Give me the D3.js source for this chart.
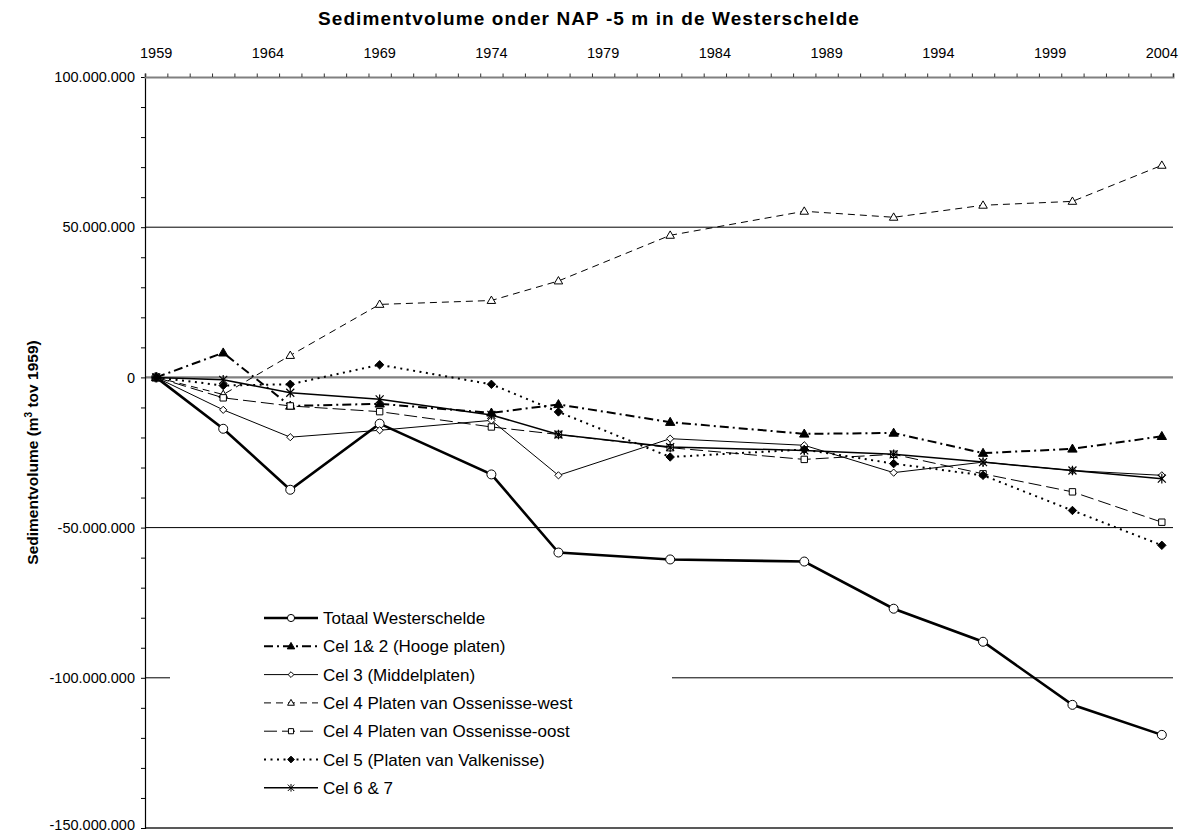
<!DOCTYPE html>
<html>
<head>
<meta charset="utf-8">
<script src="https://cdn.jsdelivr.net/npm/d3@7"></script>
<style>
  body { margin: 0; background: #fff; }
  svg { font-family: "Liberation Sans", Arial, sans-serif; }
</style>
</head>
<body>
<svg id="Vis" width="1179" height="832"></svg>
<script>
/* DATA (million m3 relative to 1959) */
const years = [1959, 1962, 1965, 1969, 1974, 1977, 1982, 1988, 1992, 1996, 2000, 2004];

const totaal     = [0, -17.1, -37.4, -15.4, -32.3, -58.3, -60.6, -61.3, -77.0, -88.0, -109.0, -119.0];
const cel12      = [0, 8.2, -9.5, -8.8, -11.8, -9.0, -14.9, -18.8, -18.5, -25.2, -23.8, -19.6];
const cel3       = [0, -10.8, -19.9, -17.6, -14.3, -32.6, -20.4, -22.6, -31.7, -28.2, -31.0, -32.6];
const cel4west   = [0, -5.7, 7.3, 24.3, 25.6, 32.1, 47.3, 55.3, 53.3, 57.3, 58.6, 70.6];
const cel4oost   = [0, -6.8, -9.5, -11.4, -16.5, -19.0, -23.4, -27.3, -25.6, -32.1, -38.1, -48.2];
const cel5       = [0, -2.7, -2.3, 4.2, -2.3, -11.5, -26.5, -24.0, -28.7, -32.6, -44.3, -55.9];
const cel67      = [0, -0.8, -5.1, -7.3, -12.5, -19.0, -23.2, -24.3, -25.6, -28.2, -31.0, -33.7];

const seriesNames = [
  "Totaal Westerschelde",
  "Cel 1& 2 (Hooge platen)",
  "Cel 3 (Middelplaten)",
  "Cel 4 Platen van Ossenisse-west",
  "Cel 4 Platen van Ossenisse-oost",
  "Cel 5 (Platen van Valkenisse)",
  "Cel 6 & 7"
];
const seriesValues = [totaal, cel12, cel3, cel4west, cel4oost, cel5, cel67];

const yTicks = d3.range(-150, 101, 10);
const yLabelled = [-150, -100, -50, 0, 50, 100];
const xLabelYears = d3.range(1959, 2005, 5);

const chartTitle = "Sedimentvolume onder NAP -5 m in de Westerschelde";

/* STYLES per series */
const styles = [
  { width: 2.6, dash: null,        marker: "circle",   fill: "#fff", size: 4.5 },
  { width: 2,   dash: "9,4,2,4",   marker: "triangle", fill: "#000", size: 4.6 },
  { width: 1,   dash: null,        marker: "diamond",  fill: "#fff", size: 3.6 },
  { width: 1,   dash: "7,5",       marker: "triangle", fill: "#fff", size: 4.2 },
  { width: 1,   dash: "13,5",      marker: "square",   fill: "#fff", size: 3.2 },
  { width: 2,   dash: "2,4.5",     marker: "diamond",  fill: "#000", size: 4.2 },
  { width: 1.5, dash: null,        marker: "asterisk", fill: "none", size: 4 }
];

const margin = { top: 77, bottom: 4, left: 145, right: 6 };

const svg = d3.select("svg#Vis");
const W = +svg.attr("width"), H = +svg.attr("height");

/* SCALES */
const x = d3.scaleLinear().domain([1959, 2005]).range([margin.left, W - margin.right]);
const y = d3.scaleLinear().domain([-150e6, 100e6]).range([H - margin.bottom, margin.top]);
const cx = yr => x(yr + 0.5);

const nl = d3.formatLocale({ decimal: ",", thousands: ".", grouping: [3], currency: ["", ""], minus: "-" });
const fmt = nl.format(",d");

/* GRID */
const grid = svg.append("g").attr("id", "grid");
[50, -50, -100].forEach(v => {
  grid.append("line")
    .attr("x1", x(1959)).attr("x2", x(2005))
    .attr("y1", y(v * 1e6)).attr("y2", y(v * 1e6))
    .attr("stroke", "#000").attr("stroke-width", 1);
});
grid.append("line")
  .attr("x1", x(1959)).attr("x2", x(2005))
  .attr("y1", y(0)).attr("y2", y(0))
  .attr("stroke", "#808080").attr("stroke-width", 2.2);
grid.append("line")
  .attr("x1", x(1959)).attr("x2", x(2005))
  .attr("y1", y(-150e6)).attr("y2", y(-150e6))
  .attr("stroke", "#222").attr("stroke-width", 1.6);

/* AXES */
const yAxis = d3.axisLeft(y)
  .tickValues(yTicks.map(v => v * 1e6))
  .tickSize(4)
  .tickPadding(6)
  .tickFormat(d => yLabelled.includes(Math.round(d / 1e6)) ? fmt(d) : "");
const yGroup = svg.append("g").attr("transform", "translate(" + x(1959) + ",0)").call(yAxis);
yGroup.select(".domain").attr("stroke", "#000").attr("stroke-width", 1.2);
yGroup.selectAll("text").attr("font-size", 14.5).attr("fill", "#000")
  .attr("font-family", "Liberation Sans, Arial, sans-serif");
// bottom label sits on the edge of the picture, lift it slightly
yGroup.selectAll(".tick").filter(d => d === -150e6).select("text").attr("dy", "0.1em");

const xTickAxis = d3.axisTop(x).tickValues(d3.range(1959, 2006)).tickSize(3.5).tickFormat("");
const xGroup = svg.append("g").attr("transform", "translate(0," + y(100e6) + ")").call(xTickAxis);
xGroup.select(".domain").attr("stroke", "#808080").attr("stroke-width", 2);
xGroup.selectAll(".tick line").attr("stroke", "#333");

const xLabels = svg.append("g").attr("id", "x-labels");
xLabels.selectAll("text").data(xLabelYears).enter().append("text")
  .attr("x", d => cx(d)).attr("y", 58)
  .attr("text-anchor", "middle")
  .attr("font-size", 14.5)
  .text(d => d);

/* TITLES */
svg.append("text")
  .attr("x", 589).attr("y", 25)
  .attr("text-anchor", "middle")
  .attr("font-weight", "bold").attr("font-size", 19)
  .attr("letter-spacing", 1.1)
  .text(chartTitle);

const yt = svg.append("text")
  .attr("transform", "translate(38," + ((y(100e6) + y(-150e6)) / 2) + ") rotate(-90)")
  .attr("text-anchor", "middle")
  .attr("font-weight", "bold").attr("font-size", 15.5);
yt.append("tspan").text("Sedimentvolume (m");
yt.append("tspan").attr("font-size", 10).attr("dy", -6).text("3");
yt.append("tspan").attr("dy", 6).text(" tov 1959)");

/* MARKERS */
function markerPath(type, s) {
  if (type === "circle") return d3.symbol(d3.symbolCircle, Math.PI * s * s)();
  if (type === "triangle") {
    const h = s * 1.75;
    return "M0," + (-h * 0.6) + "L" + (h * 0.58) + "," + (h * 0.4) + "L" + (-h * 0.58) + "," + (h * 0.4) + "Z";
  }
  if (type === "diamond") return "M0," + (-s) + "L" + s + ",0L0," + s + "L" + (-s) + ",0Z";
  if (type === "square") return "M" + (-s) + "," + (-s) + "h" + (2 * s) + "v" + (2 * s) + "h" + (-2 * s) + "Z";
  if (type === "asterisk") return "M" + (-s) + "," + (-s) + "L" + s + "," + s + "M" + (-s) + "," + s + "L" + s + "," + (-s) + "M0," + (-s * 1.2) + "L0," + (s * 1.2);
  return "";
}

/* LINES */
const line = d3.line().x(d => cx(d[0])).y(d => y(d[1] * 1e6));
const plot = svg.append("g").attr("id", "plot");

seriesValues.forEach((vals, i) => {
  const st = styles[i];
  const pts = years.map((yr, j) => [yr, vals[j]]);
  const g = plot.append("g").attr("class", "series");
  g.append("path").datum(pts)
    .attr("d", line)
    .attr("fill", "none")
    .attr("stroke", "#000")
    .attr("stroke-width", st.width)
    .attr("stroke-dasharray", st.dash);
  g.selectAll("path.m").data(pts).enter().append("path")
    .attr("class", "m")
    .attr("transform", d => "translate(" + cx(d[0]) + "," + y(d[1] * 1e6) + ")")
    .attr("d", markerPath(st.marker, st.size))
    .attr("fill", st.fill)
    .attr("stroke", "#000")
    .attr("stroke-width", st.marker === "asterisk" ? 1.2 : 1);
});

/* LEGEND */
const legend = svg.append("g").attr("id", "legend");
legend.append("rect")
  .attr("x", 170).attr("y", 598).attr("width", 502).attr("height", 208)
  .attr("fill", "#fff");
seriesNames.forEach((name, i) => {
  const st = styles[i];
  const ly = 618 + i * 28.3;
  legend.append("line")
    .attr("x1", 264).attr("x2", 318).attr("y1", ly).attr("y2", ly)
    .attr("stroke", "#000").attr("stroke-width", st.width)
    .attr("stroke-dasharray", st.dash);
  legend.append("path")
    .attr("transform", "translate(291," + ly + ")")
    .attr("d", markerPath(st.marker, st.size * 0.8))
    .attr("fill", st.fill).attr("stroke", "#000")
    .attr("stroke-width", 1);
  legend.append("text")
    .attr("x", 323).attr("y", ly + 6)
    .attr("font-size", 17)
    .text(name);
});
</script>
</body>
</html>
